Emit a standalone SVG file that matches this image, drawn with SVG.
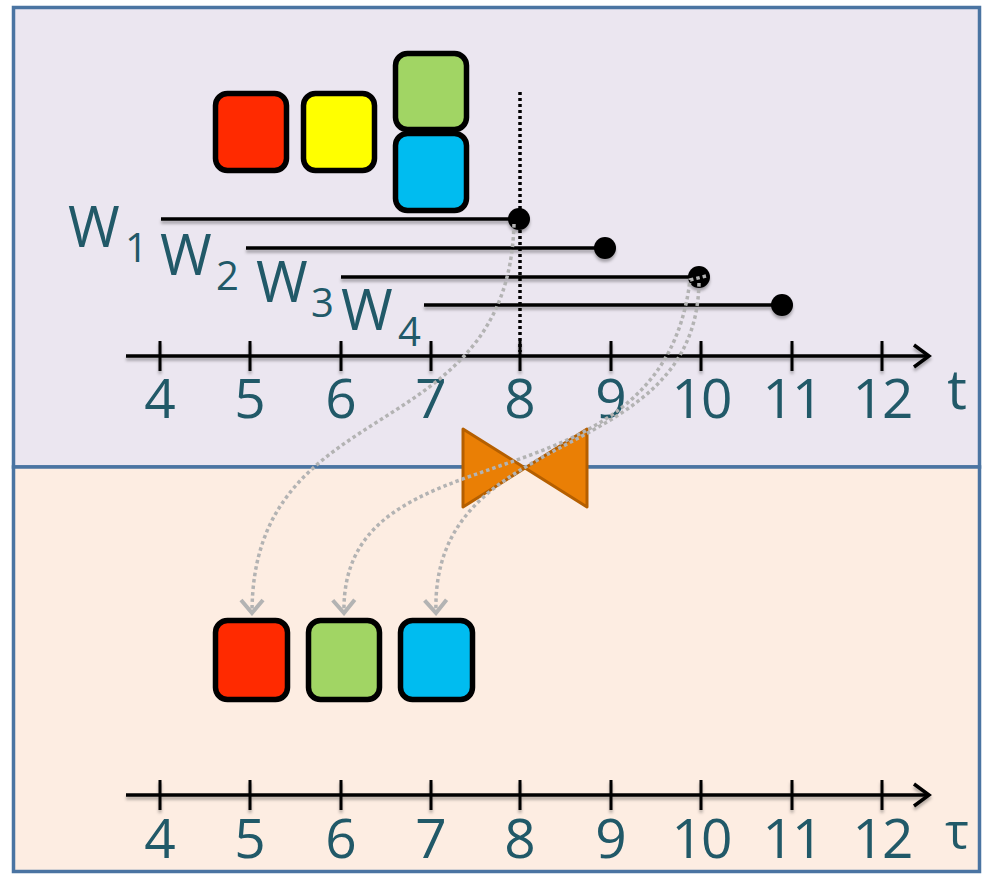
<svg xmlns="http://www.w3.org/2000/svg" width="984" height="875" viewBox="0 0 984 875">
<style>
.lbl{font-family:"Open Sans","Liberation Sans",sans-serif;fill:#215968}
.num{font-size:55px;text-anchor:middle}
.w{font-size:56px}
.sub{font-size:40px}
.tl{stroke:#000;stroke-width:3.5;fill:none}
.tick{stroke:#000;stroke-width:3}
.sq{stroke:#000;stroke-width:5.5}
.conn{fill:none;stroke:#b3b3b3;stroke-width:3.5;stroke-dasharray:3.5 3}
</style>
<defs>
<filter id="sh" filterUnits="userSpaceOnUse" x="0" y="0" width="984" height="875">
<feDropShadow dx="0" dy="3" stdDeviation="1.5" flood-color="#000" flood-opacity="0.3"/>
</filter>
<marker id="ga" markerUnits="userSpaceOnUse" orient="auto" refX="0" refY="0" viewBox="-16 -14 19 28" markerWidth="19" markerHeight="28">
<path d="M -13,-11 L 0,0 L -13,11" fill="none" stroke="#b3b3b3" stroke-width="4"/>
</marker>
</defs>

<g id="panel-top"><rect x="13.5" y="7.5" width="966" height="459.5" fill="#ebe6f0" stroke="#4a74a2" stroke-width="3.5"/></g>
<g id="panel-bottom"><rect x="13.5" y="467" width="966" height="404.5" fill="#fdede2" stroke="#4a74a2" stroke-width="3.5"/></g>

<g id="top-blocks">
<rect class="sq" x="215.5" y="93.5" width="71" height="77" rx="12" fill="#ff2a00"/>
<rect class="sq" x="303.5" y="93.5" width="71" height="77" rx="12" fill="#ffff00"/>
<rect class="sq" x="395.5" y="53.5" width="71" height="76" rx="12" fill="#a1d564"/>
<rect class="sq" x="395.5" y="133.5" width="71" height="77" rx="12" fill="#00bcf0"/>
</g>

<g id="windows" filter="url(#sh)">
<line class="tl" x1="161" y1="219" x2="519" y2="219"/>
<circle cx="519" cy="219" r="11"/>
<line class="tl" x1="246" y1="248" x2="605" y2="248"/>
<circle cx="605" cy="248" r="11"/>
<line class="tl" x1="341" y1="277" x2="699" y2="277"/>
<circle cx="699" cy="277" r="11"/>
<line class="tl" x1="424" y1="305" x2="782" y2="305"/>
<circle cx="782" cy="305" r="11"/>
</g>

<g id="window-labels" class="lbl">
<text class="w" x="68" y="247">W</text><text class="sub" x="125" y="262">1</text>
<text class="w" x="160" y="275">W</text><text class="sub" x="216" y="290">2</text>
<text class="w" x="256" y="302">W</text><text class="sub" x="311" y="317">3</text>
<text class="w" x="341" y="330">W</text><text class="sub" x="398" y="346">4</text>
</g>

<g id="axis-t" filter="url(#sh)">
<line class="tl" x1="126" y1="356" x2="928" y2="356"/>
<polyline class="tl" points="914,345 929,356 914,367"/>
<line class="tick" x1="160" y1="341" x2="160" y2="371"/>
<line class="tick" x1="250" y1="341" x2="250" y2="371"/>
<line class="tick" x1="341" y1="341" x2="341" y2="371"/>
<line class="tick" x1="431" y1="341" x2="431" y2="371"/>
<line class="tick" x1="520" y1="341" x2="520" y2="371"/>
<line class="tick" x1="611" y1="341" x2="611" y2="371"/>
<line class="tick" x1="701" y1="341" x2="701" y2="371"/>
<line class="tick" x1="792" y1="341" x2="792" y2="371"/>
<line class="tick" x1="882" y1="341" x2="882" y2="371"/>
</g>
<g id="axis-t-labels" class="lbl num">
<text x="160" y="418">4</text><text x="250" y="418">5</text><text x="341" y="418">6</text>
<text x="431" y="418">7</text><text x="520" y="418">8</text><text x="611" y="418">9</text>
<text x="701" y="418" letter-spacing="-2">10</text><text x="792" y="418" letter-spacing="-2">11</text><text x="882" y="418" letter-spacing="-2">12</text>
<text x="957" y="409">t</text>
</g>

<g id="cutoff"><line x1="520" y1="92" x2="520" y2="352" stroke="#000" stroke-width="3.5" stroke-dasharray="3 3"/></g>

<g id="bowtie">
<polygon points="463,429 525,468 463,507" fill="#ea7f05" stroke="#b55f00" stroke-width="3" stroke-linejoin="round"/>
<polygon points="587,429 525,468 587,507" fill="#ea7f05" stroke="#b55f00" stroke-width="3" stroke-linejoin="round"/>
</g>

<g id="bottom-blocks">
<rect class="sq" x="215.5" y="620.5" width="72" height="79" rx="12" fill="#ff2a00"/>
<rect class="sq" x="308.5" y="620.5" width="71" height="79" rx="12" fill="#a1d564"/>
<rect class="sq" x="400.5" y="620.5" width="72" height="79" rx="12" fill="#00bcf0"/>
</g>

<g id="axis-tau" filter="url(#sh)">
<line class="tl" x1="126" y1="795" x2="928" y2="795"/>
<polyline class="tl" points="914,784 929,795 914,806"/>
<line class="tick" x1="160" y1="780" x2="160" y2="810"/>
<line class="tick" x1="250" y1="780" x2="250" y2="810"/>
<line class="tick" x1="341" y1="780" x2="341" y2="810"/>
<line class="tick" x1="431" y1="780" x2="431" y2="810"/>
<line class="tick" x1="520" y1="780" x2="520" y2="810"/>
<line class="tick" x1="611" y1="780" x2="611" y2="810"/>
<line class="tick" x1="701" y1="780" x2="701" y2="810"/>
<line class="tick" x1="792" y1="780" x2="792" y2="810"/>
<line class="tick" x1="882" y1="780" x2="882" y2="810"/>
</g>
<g id="axis-tau-labels" class="lbl num">
<text x="160" y="858">4</text><text x="250" y="858">5</text><text x="341" y="858">6</text>
<text x="431" y="858">7</text><text x="520" y="858">8</text><text x="611" y="858">9</text>
<text x="701" y="858" letter-spacing="-2">10</text><text x="792" y="858" letter-spacing="-2">11</text><text x="882" y="858" letter-spacing="-2">12</text>
<text x="957" y="849" style="font-size:50px">τ</text>
</g>

<g id="connectors">
<path class="conn" d="M 514,224 C 508,450 252,390 252,613" marker-end="url(#ga)"/>
<path class="conn" d="M 706,276 L 690,280 C 662,520 340,420 344,613" marker-end="url(#ga)"/>
<path class="conn" d="M 699,283 C 695,470 430,420 436,613" marker-end="url(#ga)"/>
</g>
</svg>
